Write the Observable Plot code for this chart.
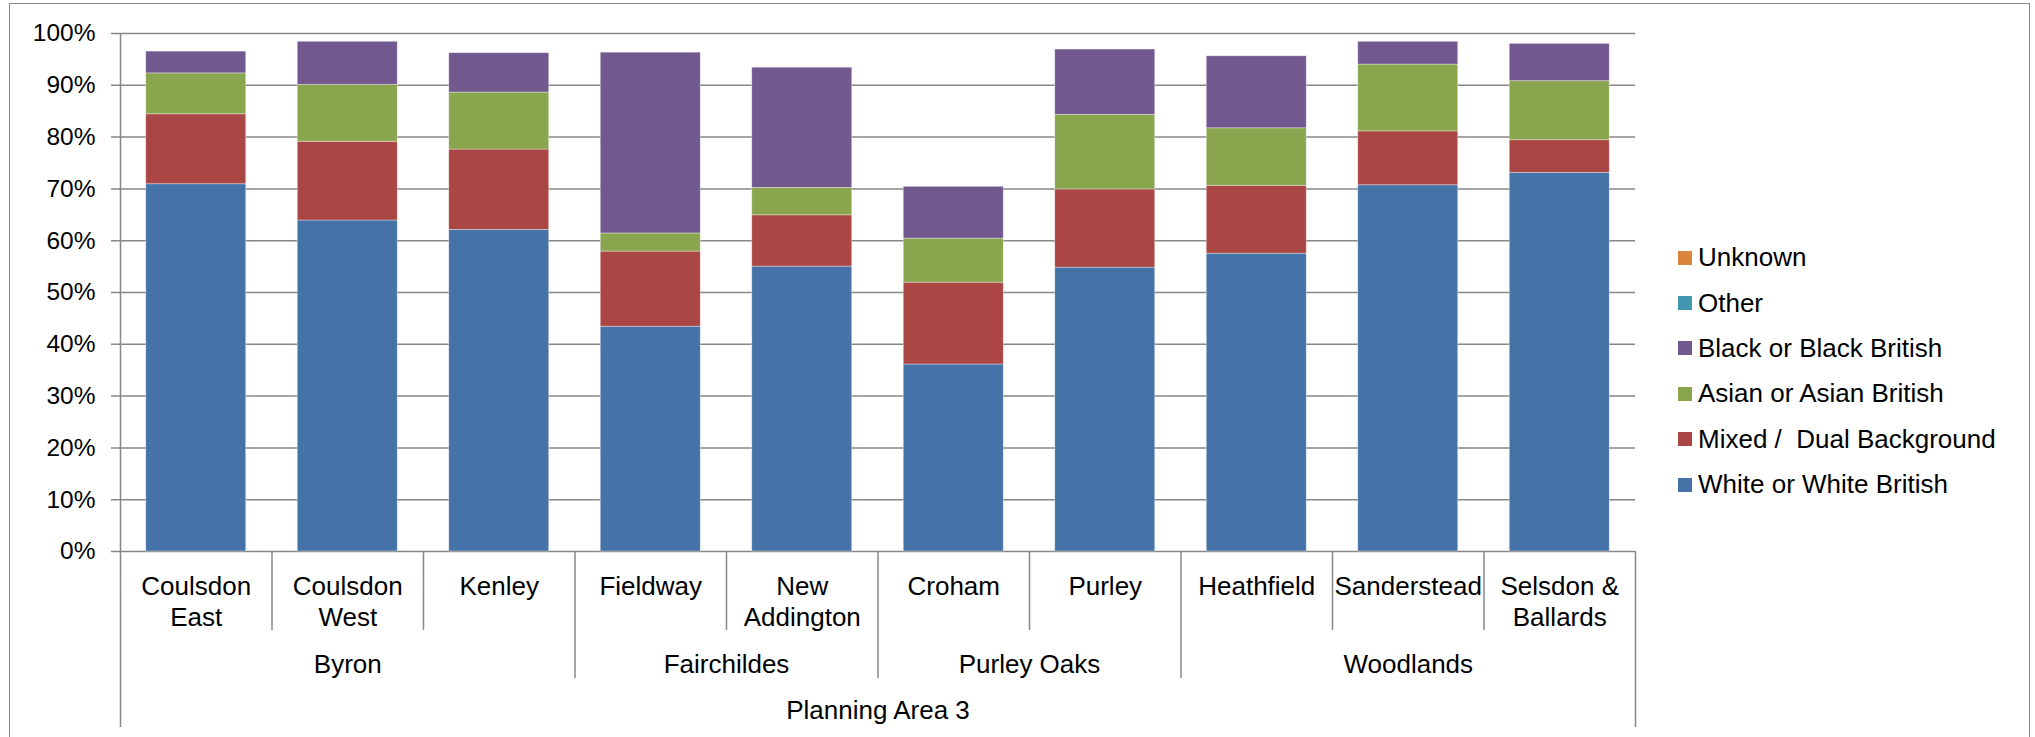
<!DOCTYPE html>
<html>
<head>
<meta charset="utf-8">
<script src="https://cdn.jsdelivr.net/npm/d3@7"></script>
<script src="https://cdn.jsdelivr.net/npm/@observablehq/plot@0.6"></script>
<style>
  html, body { margin: 0; padding: 0; background: #fff; overflow: hidden; }
  #wrap { position: relative; width: 2035px; height: 737px; overflow: hidden; font-family: "Liberation Sans", Arial, sans-serif; }
  #frame { position: absolute; left: 9px; top: 3px; width: 2021px; height: 800px; border: 1.5px solid #8a8a8a; box-sizing: border-box; }
  #chart { position: absolute; left: 0; top: 0; }
  #legend { position: absolute; left: 1678px; top: 235px; }
  .row { display: flex; align-items: center; height: 45.4px; font-size: 26px; color: #000; white-space: pre; }
  .sw { width: 14px; height: 14px; margin-right: 6px; flex: none; }
</style>
</head>
<body>
<div id="wrap">
  <div id="frame"></div>
  <div id="chart"></div>
  <div id="legend"></div>
</div>
<script>
// ---- data ----
const wards = ["Coulsdon East", "Coulsdon West", "Kenley", "Fieldway", "New Addington", "Croham", "Purley", "Heathfield", "Sanderstead", "Selsdon & Ballards"];
const wardLabels = ["Coulsdon\nEast", "Coulsdon\nWest", "Kenley", "Fieldway", "New\nAddington", "Croham", "Purley", "Heathfield", "Sanderstead", "Selsdon &\nBallards"];
const groups = ["Byron", "Byron", "Byron", "Fairchildes", "Fairchildes", "Purley Oaks", "Purley Oaks", "Woodlands", "Woodlands", "Woodlands"];
const areaLabel = "Planning Area 3";
const series = ["White or White British", "Mixed /  Dual Background", "Asian or Asian British", "Black or Black British", "Other", "Unknown"];
const whiteVals   = [70.9, 63.9, 62.1, 43.4, 55.0, 36.1, 54.8, 57.5, 70.7, 73.1];
const mixedVals   = [13.5, 15.2, 15.5, 14.5,  9.9, 15.8, 15.1, 13.1, 10.4,  6.3];
const asianVals   = [ 7.9, 11.0, 11.0,  3.5,  5.3,  8.5, 14.4, 11.1, 12.9, 11.4];
const blackVals   = [ 4.2,  8.3,  7.6, 34.9, 23.2, 10.0, 12.6, 13.9,  4.4,  7.2];
const otherVals   = [ 0, 0, 0, 0, 0, 0, 0, 0, 0, 0];
const unknownVals = [ 0, 0, 0, 0, 0, 0, 0, 0, 0, 0];
const yTicks = [0, 10, 20, 30, 40, 50, 60, 70, 80, 90, 100];
const colors = ["#4572A7", "#AA4643", "#89A54E", "#71588F", "#4198AF", "#DB843D"];

// ---- build table ----
const seriesVals = [whiteVals, mixedVals, asianVals, blackVals, otherVals, unknownVals];
const rows = [];
wards.forEach((w, i) => {
  let acc = 0;
  series.forEach((s, k) => {
    const v = seriesVals[k][i];
    rows.push({i, ward: w, series: s, y1: acc, y2: acc + v});
    acc += v;
  });
});
const n = wards.length;
const outerBounds = [0, n];
const groupBounds = [], wardBounds = [];
for (let i = 1; i < n; i++) (groups[i] !== groups[i - 1] ? groupBounds : wardBounds).push(i);
const groupSpans = [];
groups.forEach((g, i) => {
  const last = groupSpans[groupSpans.length - 1];
  if (last && last.name === g) last.end = i + 1; else groupSpans.push({name: g, start: i, end: i + 1});
});

const W = 2035, H = 737, mL = 120, mR = 400, mT = 33, mB = 186;
const plotH = H - mT - mB;
const grey = "#878787";
const font = 26;

const chart = Plot.plot({
  width: W, height: H,
  marginLeft: mL, marginRight: mR, marginTop: mT, marginBottom: mB,
  x: {type: "linear", domain: [0, n], axis: null},
  y: {domain: [0, 100], axis: null},
  color: {domain: series, range: colors},
  style: {fontFamily: "'Liberation Sans', Arial, sans-serif", fontSize: font + "px", color: "#000", background: "transparent", overflow: "visible"},
  marks: [
    Plot.ruleY(yTicks, {y: d => d, x1: 0, x2: n, insetLeft: -9, stroke: grey, strokeWidth: 1.5}),
    Plot.text(yTicks, {x: 0, y: d => d, text: d => d + "%", textAnchor: "end", dx: -25, fontSize: 24.5, fill: "#000"}),
    Plot.rect(rows, {x1: d => d.i + 0.17, x2: d => d.i + 0.83, y1: "y1", y2: "y2", fill: "series", stroke: "#fff", strokeOpacity: 0.45, strokeWidth: 0.8}),
    Plot.ruleX([0], {x: d => d, y1: 0, y2: 100, stroke: grey, strokeWidth: 1.5}),
    Plot.ruleX(wardBounds, {x: d => d, insetTop: plotH, insetBottom: -79, stroke: grey, strokeWidth: 1.5}),
    Plot.ruleX(groupBounds, {x: d => d, insetTop: plotH, insetBottom: -127, stroke: grey, strokeWidth: 1.5}),
    Plot.ruleX(outerBounds, {x: d => d, insetTop: plotH, insetBottom: -176, stroke: grey, strokeWidth: 1.5}),
    Plot.text(wardLabels, {x: (d, i) => i + 0.5, frameAnchor: "bottom", text: d => d, lineAnchor: "top", dy: 22, lineHeight: 1.18, fontSize: font, fill: "#000"}),
    Plot.text(groupSpans, {x: d => (d.start + d.end) / 2, frameAnchor: "bottom", text: "name", lineAnchor: "middle", dy: 113, fontSize: font, fill: "#000"}),
    Plot.text([areaLabel], {x: n / 2, frameAnchor: "bottom", text: d => d, lineAnchor: "middle", dy: 159, fontSize: font, fill: "#000"})
  ]
});
document.getElementById("chart").appendChild(chart);

// ---- legend (top entry = last series) ----
const legend = document.getElementById("legend");
series.slice().reverse().forEach(s => {
  const row = document.createElement("div");
  row.className = "row";
  const sw = document.createElement("div");
  sw.className = "sw";
  sw.style.background = colors[series.indexOf(s)];
  const t = document.createElement("span");
  t.textContent = s;
  row.appendChild(sw);
  row.appendChild(t);
  legend.appendChild(row);
});
</script>
</body>
</html>
